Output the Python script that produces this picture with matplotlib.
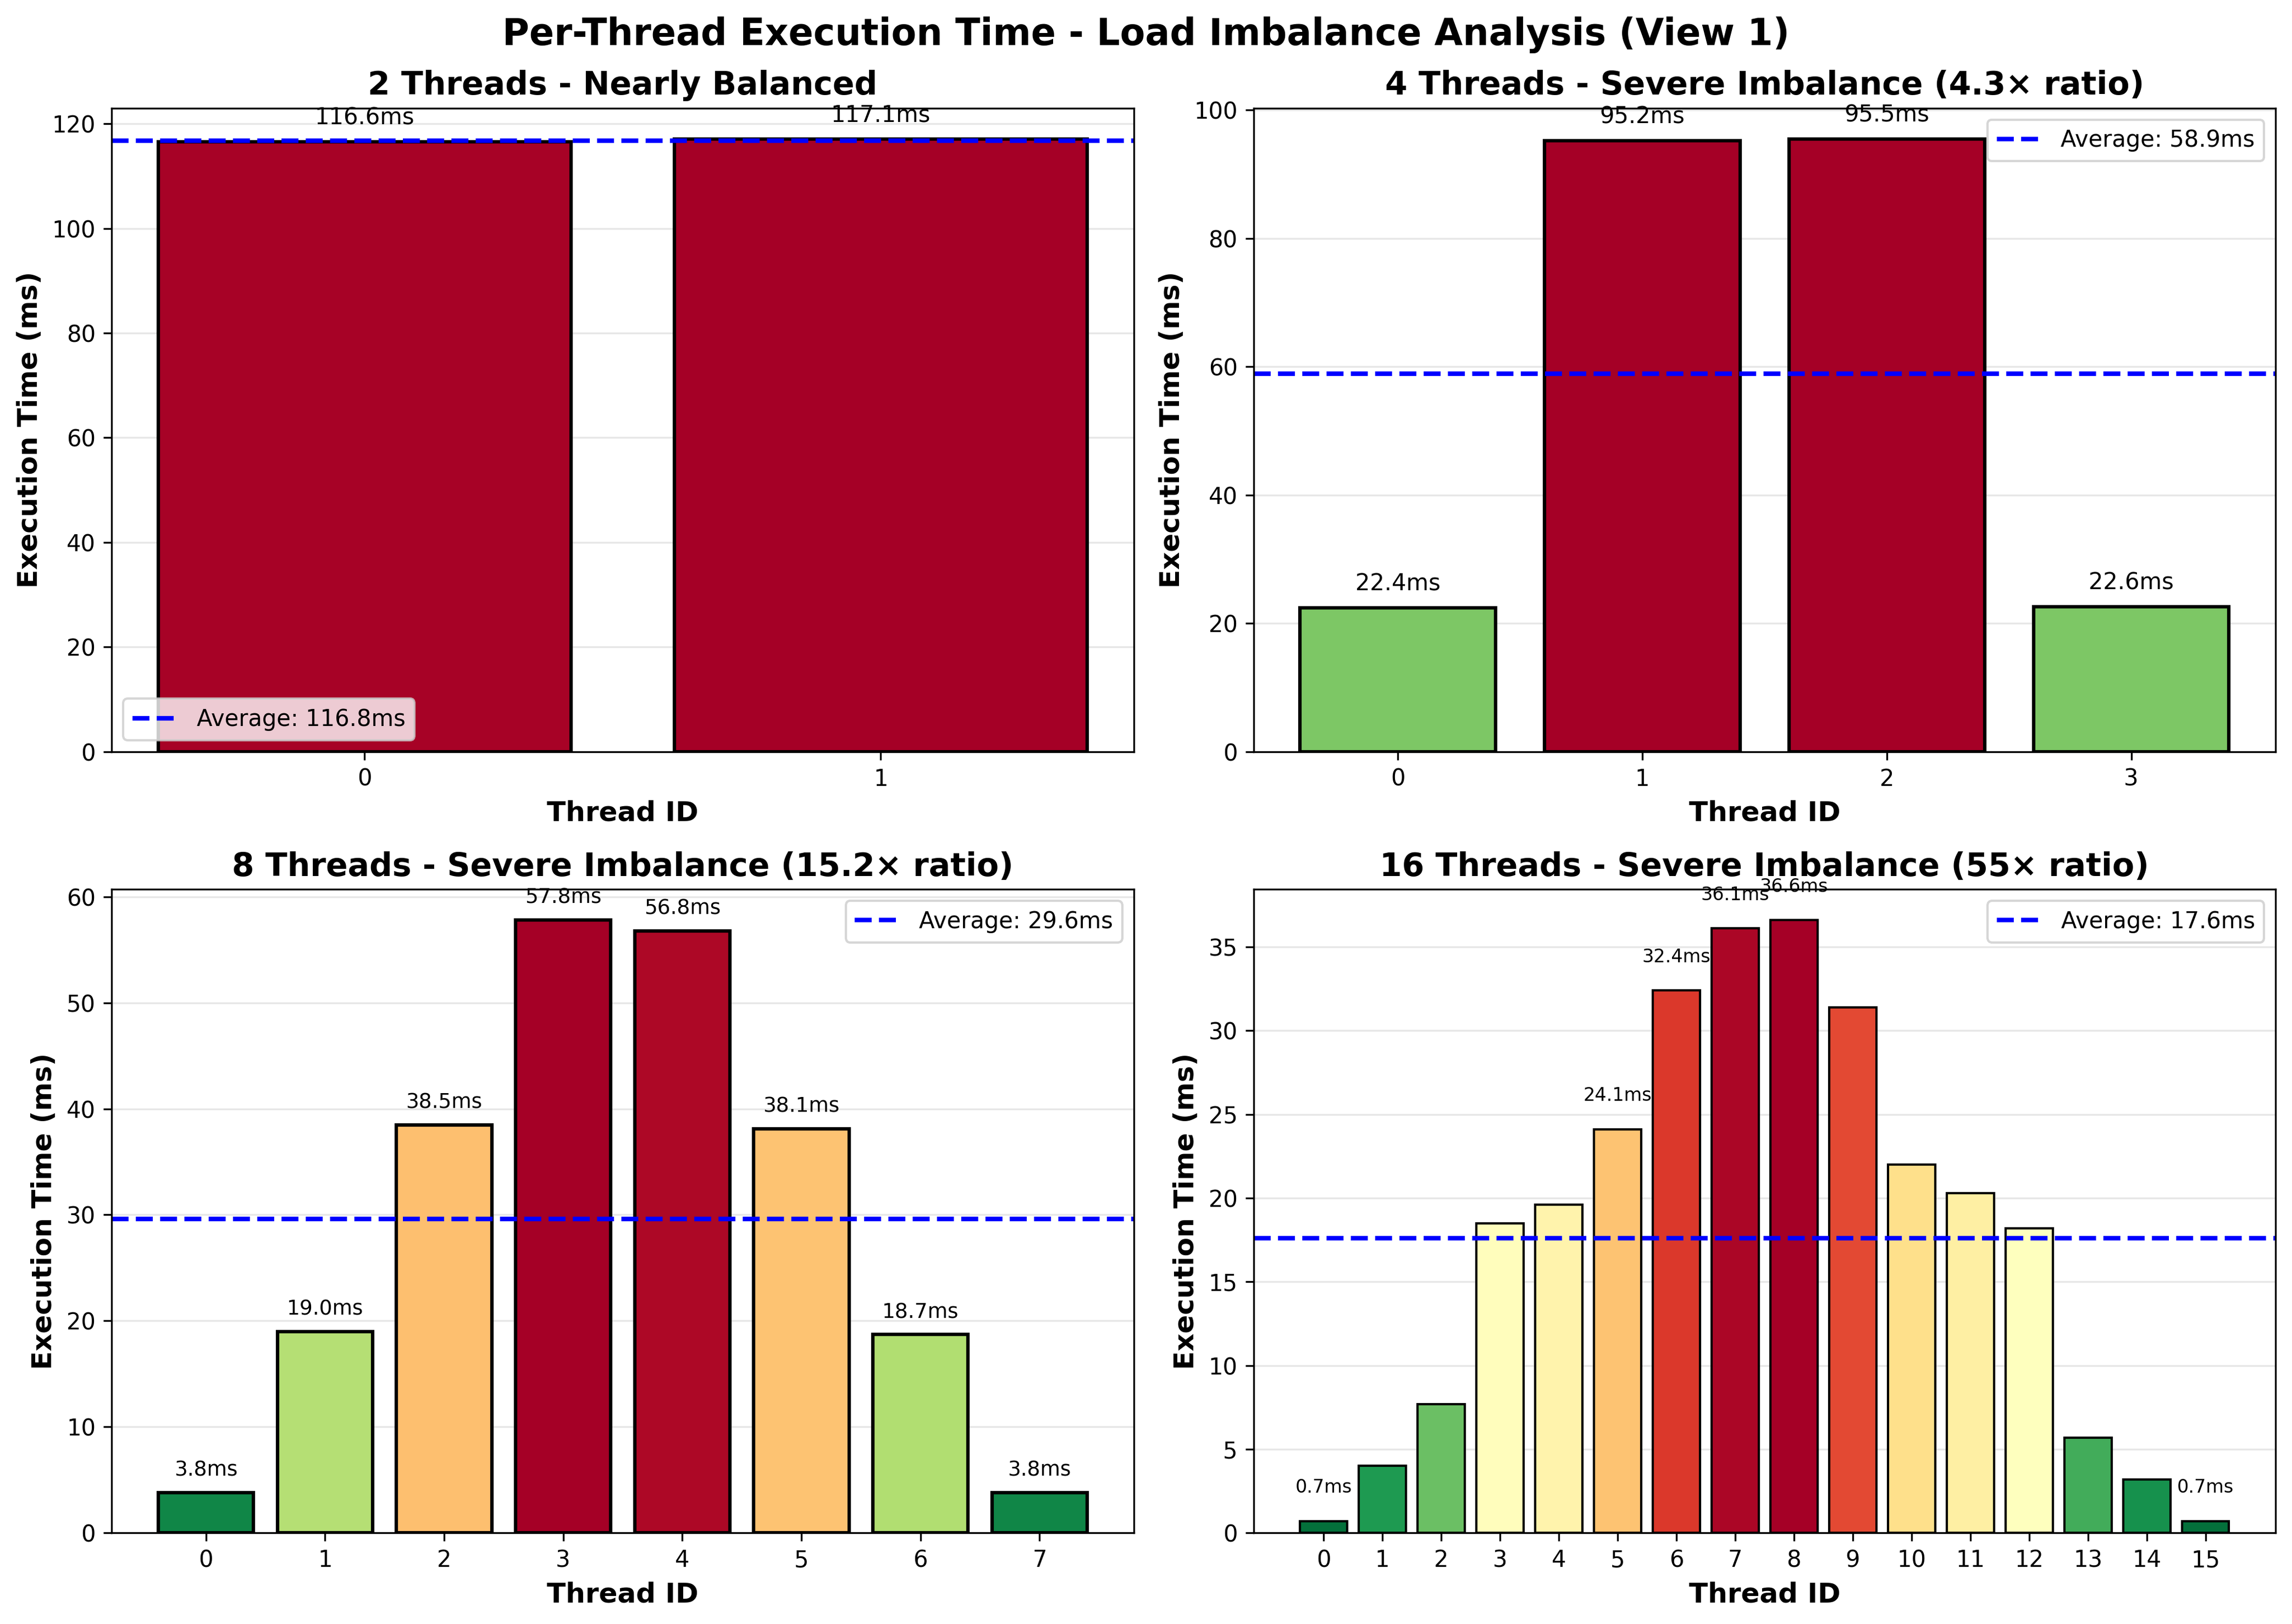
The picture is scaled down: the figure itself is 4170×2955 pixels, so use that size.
import matplotlib
matplotlib.use("Agg")
import matplotlib.pyplot as plt
import numpy as np

threads_2 = [116.6, 117.1]
threads_4 = [22.4, 95.2, 95.5, 22.6]
threads_8 = [3.8, 19.0, 38.5, 57.8, 56.8, 38.1, 18.7, 3.8]
threads_16 = [0.7, 4.0, 7.7, 18.5, 19.6, 24.1, 32.4, 36.1, 36.6, 31.4, 22.0, 20.3, 18.2, 5.7, 3.2, 0.7]

titles = [
    "2 Threads - Nearly Balanced",
    "4 Threads - Severe Imbalance (4.3\u00d7 ratio)",
    "8 Threads - Severe Imbalance (15.2\u00d7 ratio)",
    "16 Threads - Severe Imbalance (55\u00d7 ratio)",
]
averages = [116.8, 58.9, 29.6, 17.6]
legend_locs = ["lower left", "upper right", "upper right", "upper right"]
label_idx_16 = [0, 5, 6, 7, 8, 15]

datasets = [threads_2, threads_4, threads_8, threads_16]
label_sizes = [10, 10, 9, 8]
edge_widths = [1.5, 1.5, 1.5, 1.0]
label_offsets = [0.02, 0.02, 0.02, 0.04]

fig, axes = plt.subplots(2, 2, figsize=(14, 10), dpi=300)
cmap = plt.get_cmap("RdYlGn_r")

for ax, data, title, avg, loc, lsz, ew, off in zip(
    axes.flat, datasets, titles, averages, legend_locs, label_sizes, edge_widths, label_offsets
):
    data = np.array(data)
    x = np.arange(len(data))
    colors = cmap(data / data.max())
    ax.bar(x, data, color=colors, edgecolor="black", linewidth=ew)
    ax.axhline(avg, color="blue", linestyle="--", linewidth=2, label=f"Average: {avg}ms")
    n = len(data)
    idxs = label_idx_16 if n == 16 else range(n)
    for i in idxs:
        ax.text(x[i], data[i] + data.max() * off, f"{data[i]:.1f}ms",
                ha="center", va="bottom", fontsize=lsz)
    ax.set_xticks(x)
    ax.set_xlabel("Thread ID", fontsize=12, fontweight="bold")
    ax.set_ylabel("Execution Time (ms)", fontsize=12, fontweight="bold")
    ax.set_title(title, fontsize=14, fontweight="bold")
    ax.legend(loc=loc, fontsize=10)
    ax.grid(axis="y", alpha=0.3)
    ax.set_axisbelow(True)

fig.suptitle("Per-Thread Execution Time - Load Imbalance Analysis (View 1)", fontsize=16, fontweight="bold")
fig.tight_layout()
fig.savefig("out.png", dpi=300, bbox_inches="tight")
